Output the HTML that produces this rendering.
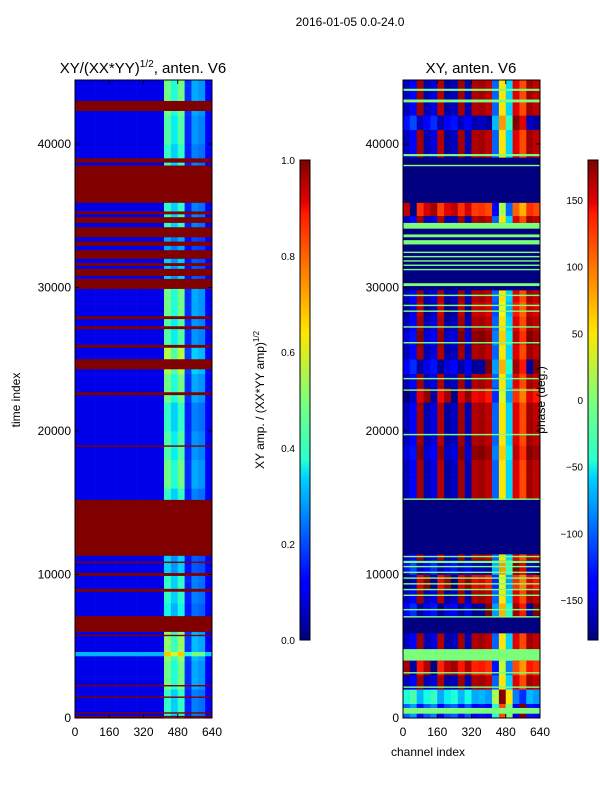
<!DOCTYPE html>
<html><head><meta charset="utf-8">
<style>
html,body{margin:0;padding:0;background:#fff;}
svg{display:block;font-family:"Liberation Sans","DejaVu Sans",sans-serif;}
</style></head>
<body>
<svg id="fig" width="600" height="800" viewBox="0 0 600 800">
<defs>
<linearGradient id="jet" x1="0" y1="1" x2="0" y2="0">
<stop offset="0" stop-color="#000080"/><stop offset="0.11" stop-color="#0000ff"/>
<stop offset="0.125" stop-color="#0000ff"/><stop offset="0.34" stop-color="#00d4ff"/>
<stop offset="0.375" stop-color="#29ffce"/><stop offset="0.5" stop-color="#7dff7a"/>
<stop offset="0.64" stop-color="#ffe600"/><stop offset="0.66" stop-color="#ffd700"/>
<stop offset="0.89" stop-color="#ff1a00"/><stop offset="0.91" stop-color="#e80000"/>
<stop offset="1" stop-color="#800000"/>
</linearGradient>
</defs>
<text x="350" y="26" font-size="12" text-anchor="middle">2016-01-05 0.0-24.0</text>
<text x="143" y="73" font-size="15" text-anchor="middle">XY/(XX*YY)<tspan font-size="10" dy="-6">1/2</tspan><tspan dy="6">, anten. V6</tspan></text>
<text x="471" y="73" font-size="15" text-anchor="middle">XY, anten. V6</text>
<g id="leftHeat"></g>
<g id="rightHeat"></g>
<g id="axes"></g>
<text transform="translate(20,400) rotate(-90)" font-size="12" text-anchor="middle">time index</text>
<text x="428" y="756" font-size="12" text-anchor="middle">channel index</text>
<rect x="300" y="160" width="10" height="480" fill="url(#jet)" stroke="#000" stroke-width="1"/>
<rect x="588" y="160" width="10" height="480" fill="url(#jet)" stroke="#000" stroke-width="1"/>
<text transform="translate(264,400) rotate(-90)" font-size="12" text-anchor="middle">XY amp. / (XX*YY amp)<tspan font-size="8" dy="-5">1/2</tspan></text>
<text transform="translate(545,400) rotate(-90)" font-size="12" text-anchor="middle">phase (deg.)</text>
</svg>
<script>
// ---- data ----
const tMax = 44460;
const chanBins = [0,32,64,96,128,160,192,224,256,288,320,352,384,416,448,480,512,544,576,608];
const leftColProfile = [0,0,0,0,0,0,0,0,0,0,0,0,0,0.4,0.3,0.4,0.08,0.2,0.18,0.03];
const leftBlockStarts = [0,2000,4000,6000,8000,10000,12000,14000,16000,18000,20000,22000,24000,26000,28000,30000,32000,34000,36000,38000,40000,42000,44000];
const leftIntensity = [0.8,1.0,1.1,0.7,0.8,0.6,0,0.8,1.0,0.9,0.8,1.0,1.2,0.9,1.0,0.6,0.5,0.8,0,0.8,0.9,1.0,1.0];
const leftFlagStart = [42300,38700,35900,35100,34500,33500,32900,32000,31500,30800,29900,27800,27100,25800,24300,22500,18900,11300,10800,9900,8800,6000,5700,2200,1400,300,50];
const leftFlagEnd   = [43000,39000,38500,35300,34900,34200,33200,32600,31700,31300,30600,28000,27300,26000,25000,22700,19000,15200,10900,10100,9000,7100,5800,2300,1500,400,150];
const leftStreakStart = [4300];
const leftStreakEnd = [4600];
const leftStreakVal = [0.3];

const rightColPhase = [-160,-140,170,-165,-150,165,-170,-160,170,-165,165,170,160,-100,60,-60,150,120,170,160];
const rightBlockStarts = [0,1000,2000,3000,4000,5000,6000,7000,8000,9000,10000,11000,12000,13000,14000,15000,16000,17000,18000,19000,20000,21000,22000,23000,24000,25000,26000,27000,28000,29000,30000,31000,32000,33000,34000,35000,36000,37000,38000,39000,40000,41000,42000,43000,44000];
const rightShift = [60,120,0,-30,0,0,0,20,0,-20,30,0,0,0,0,0,0,0,10,0,0,0,-20,0,20,0,10,0,-10,0,0,0,0,0,0,-40,0,0,0,0,0,30,0,0,0];
const rightMaskStart = [35900,11400,5900,29800];
const rightMaskEnd = [39050,15200,7000,34500];
const rightGreenStart = [43700,42900,39150,38450,34100,33500,33000,32400,32100,31800,31500,31200,30100,29400,28700,28300,27200,26100,23600,22800,19700,15200,11200,10800,10500,10100,9700,9300,8900,8500,7500,7000,4000,3100,2100,300];
const rightGreenEnd   = [43850,43100,39300,38550,34500,33700,33300,32500,32200,31900,31600,31300,30300,29500,28800,28400,27300,26200,23700,22900,19800,15300,11300,10950,10600,10200,9800,9400,9000,8600,7600,7100,4800,3200,2200,700];
const cbLeftTicks = [0.0,0.2,0.4,0.6,0.8,1.0];
const cbRightTicks = [-150,-100,-50,0,50,100,150];
const xTicks = [0,160,320,480,640];
const yTicks = [0,10000,20000,30000,40000];

// ---- scales ----
const yS = t => 718 - (t/tMax)*638;
const xL = c => 75 + c/640*137;
const xR = c => 403 + c/640*137;
function jet(v){
  v=Math.max(0,Math.min(1,v));
  const seg=(pts)=>{for(let i=1;i<pts.length;i++){if(v<=pts[i][0]){const a=pts[i-1],b=pts[i];return a[1]+(b[1]-a[1])*(v-a[0])/(b[0]-a[0]);}}return pts[pts.length-1][1];};
  const r=seg([[0,0],[0.35,0],[0.66,1],[0.89,1],[1,0.5]]);
  const g=seg([[0,0],[0.125,0],[0.375,1],[0.64,1],[0.91,0],[1,0]]);
  const b=seg([[0,0.5],[0.11,1],[0.34,1],[0.65,0],[1,0]]);
  return `rgb(${Math.round(r*255)},${Math.round(g*255)},${Math.round(b*255)})`;
}
const NS="http://www.w3.org/2000/svg";
function rect(parent,x,y,w,h,fill){
  const r=document.createElementNS(NS,"rect");
  r.setAttribute("x",x.toFixed(2));r.setAttribute("y",y.toFixed(2));
  r.setAttribute("width",Math.max(0.5,w).toFixed(2));r.setAttribute("height",Math.max(0.6,h).toFixed(2));
  r.setAttribute("fill",fill);
  parent.appendChild(r);return r;
}
const LH=document.getElementById("leftHeat"), RH=document.getElementById("rightHeat");
// left panel
leftBlockStarts.forEach((t0,i)=>{
  const t1=Math.min(tMax,t0+2000);
  chanBins.forEach((c0,j)=>{
    const v=0.09+leftIntensity[i]*leftColProfile[j];
    const el=rect(LH,xL(c0),yS(t1),xL(c0+32)-xL(c0)+0.3,yS(t0)-yS(t1)+0.3,jet(v));
    
    
  });
});
leftStreakStart.forEach((t0,i)=>{
  chanBins.forEach((c0,j)=>{
    const v=leftStreakVal[i]+leftColProfile[j];
    const el=rect(LH,xL(c0),yS(leftStreakEnd[i]),xL(c0+32)-xL(c0)+0.3,yS(t0)-yS(leftStreakEnd[i]),jet(v));
    
    
  });
});
leftFlagStart.forEach((t0,i)=>{
  const el=rect(LH,xL(0),yS(leftFlagEnd[i]),137,yS(t0)-yS(leftFlagEnd[i]),jet(1));
  
  
});
// right panel
rightBlockStarts.forEach((t0,i)=>{
  const t1=Math.min(tMax,t0+1000);
  chanBins.forEach((c0,j)=>{
    let p=rightColPhase[j]+rightShift[i];
    while(p>180)p-=360; while(p<-180)p+=360;
    const el=rect(RH,xR(c0),yS(t1),xR(c0+32)-xR(c0)+0.3,yS(t0)-yS(t1)+0.3,jet((p+180)/360));
    
    
  });
});
rightMaskStart.forEach((t0,i)=>{
  const el=rect(RH,xR(0),yS(rightMaskEnd[i]),137,yS(t0)-yS(rightMaskEnd[i]),jet(0));
  
  
});
rightGreenStart.forEach((t0,i)=>{
  const el=rect(RH,xR(0),yS(rightGreenEnd[i]),137,yS(t0)-yS(rightGreenEnd[i]),jet(0.5));
  
  
});
// axes
const AX=document.getElementById("axes");
function txt(x,y,s,anchor,size){
  const t=document.createElementNS(NS,"text");
  t.setAttribute("x",x);t.setAttribute("y",y);t.setAttribute("font-size",size||12);
  t.setAttribute("text-anchor",anchor);t.textContent=s;AX.appendChild(t);return t;
}
function line(x1,y1,x2,y2){
  const l=document.createElementNS(NS,"line");
  l.setAttribute("x1",x1);l.setAttribute("y1",y1);l.setAttribute("x2",x2);l.setAttribute("y2",y2);
  l.setAttribute("stroke","#000");l.setAttribute("stroke-width","1");AX.appendChild(l);return l;
}
[[75,xL],[403,xR]].forEach(([x0,xs],k)=>{
  const fr=document.createElementNS(NS,"rect");
  fr.setAttribute("x",x0);fr.setAttribute("y",80);fr.setAttribute("width",137);fr.setAttribute("height",638);
  fr.setAttribute("fill","none");fr.setAttribute("stroke","#000");
  
  
  AX.appendChild(fr);
  xTicks.forEach(c=>{
    line(xs(c),718,xs(c),714);line(xs(c),80,xs(c),84);
    const t=txt(xs(c),736,String(c),"middle");
    
    
  });
  yTicks.forEach(v=>{
    line(x0,yS(v),x0+4,yS(v));line(x0+137,yS(v),x0+133,yS(v));
    const t=txt(x0-4,yS(v)+4,String(v),"end");
    
    
  });
});
cbLeftTicks.forEach(v=>{
  const y=640-v*480;
  line(300,y,303,y);line(310,y,307,y);
  const t=txt(295,y+4,v.toFixed(1),"end",10);
  
  
});
cbRightTicks.forEach(v=>{
  const y=640-(v+180)/360*480;
  line(588,y,591,y);line(598,y,595,y);
  const t=txt(583,y+4,v<0?"\u2212"+(-v):String(v),"end",10);
  
  
});
</script>
</body></html>
